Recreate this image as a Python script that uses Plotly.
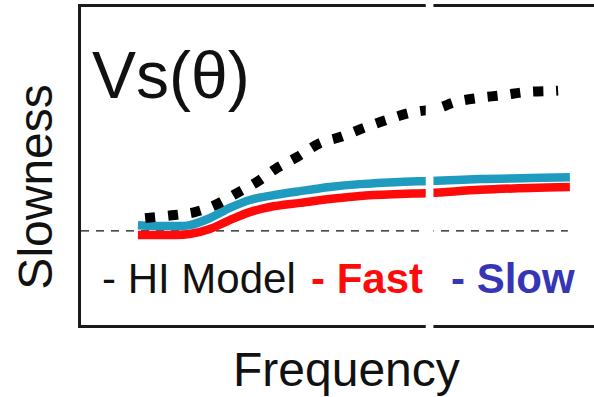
import plotly.graph_objects as go

# ---- data (arbitrary units) ----
hi_freq = [1.25, 1.83, 2.22, 2.61, 3.04, 3.43, 3.82, 4.21, 4.66, 5.05, 5.50, 5.96, 6.41, 6.96, 7.29, 7.74, 8.23, 8.69, 9.18, 9.30]
hi_slow = [3.36, 3.46, 3.55, 3.77, 4.15, 4.50, 4.94, 5.28, 5.72, 5.91, 6.19, 6.45, 6.67, 6.82, 7.01, 7.14, 7.23, 7.33, 7.36, 7.37]

fs_freq = [1.11, 1.73, 2.12, 2.51, 2.90, 3.29, 3.68, 4.27, 4.85, 5.44, 6.22, 6.80, 7.78, 8.75, 9.53]
slow_slow = [3.14, 3.11, 3.14, 3.36, 3.68, 3.93, 4.06, 4.21, 4.34, 4.43, 4.50, 4.53, 4.59, 4.62, 4.65]
fast_slow = [2.83, 2.83, 2.86, 3.02, 3.30, 3.55, 3.71, 3.84, 3.96, 4.06, 4.12, 4.15, 4.25, 4.31, 4.34]

ref_freq = [0.0, 9.49]
ref_slow = [2.96, 2.96]

break_freq = [6.72, 6.87]

title_text = "Vs(θ)"
x_label = "Frequency"
y_label = "Slowness"
legend_items = [("- HI Model", "#111111", False, 0.38),
                ("- Fast", "#FF0A0A", True, 4.44),
                ("- Slow", "#3535B5", True, 7.17)]

FONT = "Liberation Sans, Arial, sans-serif"

fig = go.Figure()
fig.add_trace(go.Scatter(x=ref_freq, y=ref_slow, mode="lines",
                         line=dict(color="#111111", width=1.4, dash="8px,7px"),
                         hoverinfo="skip"))
fig.add_trace(go.Scatter(x=fs_freq, y=fast_slow, mode="lines", line_shape="spline",
                         line=dict(color="#FF0A0A", width=8.5), hoverinfo="skip"))
fig.add_trace(go.Scatter(x=fs_freq, y=slow_slow, mode="lines", line_shape="spline",
                         line=dict(color="#1F9BBF", width=8.5), hoverinfo="skip"))
fig.add_trace(go.Scatter(x=hi_freq, y=hi_slow, mode="lines", line_shape="spline",
                         line=dict(color="#000000", width=10, dash="10px,13px"), hoverinfo="skip"))

annotations = [
    dict(x=0.17, y=7.86, xref="x", yref="y", text=title_text, showarrow=False,
         xanchor="left", yanchor="middle", font=dict(family=FONT, size=66, color="#111111")),
    dict(x=0.5166, y=-0.1415, xref="paper", yref="paper", text=x_label, showarrow=False,
         xanchor="center", yanchor="middle", font=dict(family=FONT, size=48, color="#111111")),
    dict(x=-0.0877, y=0.432, xref="paper", yref="paper", text=y_label, showarrow=False,
         textangle=-90, xanchor="center", yanchor="middle",
         font=dict(family=FONT, size=48, color="#111111")),
]
for txt, col, bold, xpos in legend_items:
    annotations.append(dict(x=xpos, y=1.45, xref="x", yref="y",
                            text=f"<b>{txt}</b>" if bold else txt, showarrow=False,
                            xanchor="left", yanchor="middle",
                            font=dict(family=FONT, size=42, color=col)))

fig.update_layout(
    width=594, height=397,
    margin=dict(l=81, r=0, t=7, b=72),
    paper_bgcolor="white", plot_bgcolor="white",
    showlegend=False,
    xaxis=dict(range=[0, 10], showline=True, mirror=True, linewidth=2.6, linecolor="#1a1a1a",
               showticklabels=False, ticks="", showgrid=False, zeroline=False),
    yaxis=dict(range=[0, 10], showline=True, mirror=False, linewidth=2.6, linecolor="#1a1a1a",
               showticklabels=False, ticks="", showgrid=False, zeroline=False),
    annotations=annotations,
    shapes=[dict(type="rect", xref="x", yref="paper", x0=break_freq[0], x1=break_freq[1],
                 y0=-0.03, y1=1.03, fillcolor="white", line=dict(width=0), layer="above")],
)

fig.write_html("out.html")
